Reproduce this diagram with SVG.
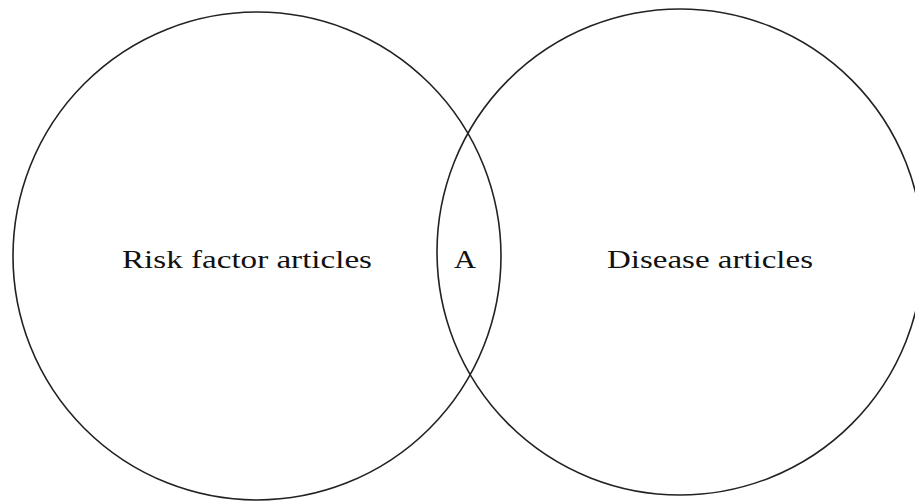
<svg xmlns="http://www.w3.org/2000/svg" width="915" height="501" viewBox="0 0 915 501">
<style>
.c{fill:none;stroke:#222;stroke-width:1.6}
.t{font-family:"Liberation Serif","DejaVu Serif",serif;font-size:26px;fill:#111}
</style>
<rect width="915" height="501" fill="#fff"/>
<g id="risk">
<circle class="c" cx="257" cy="256" r="244"/>
<text class="t" x="122" y="268" textLength="250" lengthAdjust="spacingAndGlyphs">Risk factor articles</text>
</g>
<g id="disease">
<circle class="c" cx="680" cy="252" r="243"/>
<text class="t" x="607" y="268" textLength="206" lengthAdjust="spacingAndGlyphs">Disease articles</text>
</g>
<g id="overlap">
<text class="t" x="454" y="268" textLength="22" lengthAdjust="spacingAndGlyphs">A</text>
</g>
<g id="connectors"></g>
</svg>
